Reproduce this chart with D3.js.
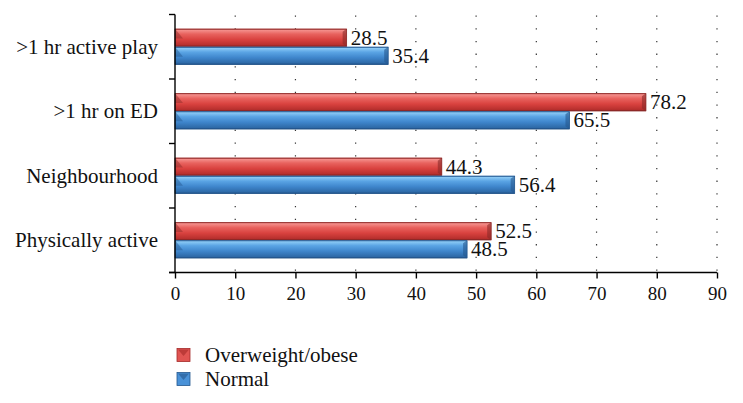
<!DOCTYPE html>
<html>
<head>
<meta charset="utf-8">
<script src="https://cdn.jsdelivr.net/npm/d3@7"></script>
<style>
  html, body { margin: 0; padding: 0; background: #fff; }
  svg { display: block; }
  svg text { font-family: "Liberation Serif", Tinos, "DejaVu Serif", serif !important; fill: #111; }
</style>
</head>
<body>
<svg id="chart" width="743" height="403"></svg>
<script>
const categories = [">1 hr active play", ">1 hr on ED", "Neighbourhood", "Physically active"];
const seriesNames = ["Overweight/obese", "Normal"];
const overweight = [28.5, 78.2, 44.3, 52.5];
const normal = [35.4, 65.5, 56.4, 48.5];
const xTicks = [0, 10, 20, 30, 40, 50, 60, 70, 80, 90];

const FONT = "Liberation Serif, Tinos, DejaVu Serif, serif";
const svg = d3.select("#chart");
const margin = { left: 175, right: 26, top: 14.5, bottom: 131 };
const W = 743, H = 403;

const x = d3.scaleLinear().domain([0, 90]).range([margin.left, W - margin.right]);
const y = d3.scaleBand().domain(categories).range([margin.top, 272.5]).paddingInner(0.44).paddingOuter(0.22);
const sub = d3.scaleBand().domain(seriesNames).range([0, y.bandwidth()]).padding(0);

const defs = svg.append("defs");
function grad(id, stops) {
  const g = defs.append("linearGradient").attr("id", id).attr("x1", 0).attr("y1", 0).attr("x2", 0).attr("y2", 1);
  stops.forEach(s => g.append("stop").attr("offset", s[0]).attr("stop-color", s[1]));
}
grad("gRed", [[0, "#b83838"], [0.08, "#f4908c"], [0.3, "#e8625e"], [0.6, "#d9423f"], [0.9, "#b8302e"], [1, "#7e1f1e"]]);
grad("gBlue", [[0, "#3a78b8"], [0.08, "#8ccaf5"], [0.3, "#5aa4e4"], [0.6, "#3f86cc"], [0.9, "#2e6aa8"], [1, "#1d4778"]]);
const fills = { "Overweight/obese": "url(#gRed)", "Normal": "url(#gBlue)" };
const strokes = { "Overweight/obese": "#8a2a28", "Normal": "#24578e" };

// dotted grid
svg.append("g").selectAll("line").data(xTicks.slice(1)).join("line")
  .attr("x1", d => x(d)).attr("x2", d => x(d))
  .attr("y1", margin.top + 1).attr("y2", 272.5)
  .attr("stroke", "#333").attr("stroke-width", 1.2)
  .attr("stroke-dasharray", "1.3,11.4");

// bars
const rows = categories.map((c, i) => ({ c, vals: [
  { s: seriesNames[0], v: overweight[i] },
  { s: seriesNames[1], v: normal[i] }
]}));
const g = svg.append("g").selectAll("g").data(rows).join("g")
  .attr("transform", d => `translate(0,${y(d.c)})`);
const bar = g.selectAll("g").data(d => d.vals).join("g")
  .attr("transform", d => `translate(0,${sub(d.s)})`);
bar.append("rect")
  .attr("x", x(0)).attr("y", 0)
  .attr("width", d => x(d.v) - x(0)).attr("height", sub.bandwidth())
  .attr("fill", d => fills[d.s]);
bar.append("path")
  .attr("d", d => {
    const xe = x(d.v), h = sub.bandwidth();
    return `M${xe},0 L${xe},${h} L${xe - 4},${h - 3} L${xe - 4},3 Z`;
  })
  .attr("fill", d => strokes[d.s]).attr("opacity", 0.6);
bar.append("path")
  .attr("d", d => {
    const x0 = x(0), h = sub.bandwidth();
    return `M${x0},0 L${x0 + 8},${h * 0.55} L${x0},${h * 0.55} Z`;
  })
  .attr("fill", d => strokes[d.s]).attr("opacity", 0.45);
bar.append("rect")
  .attr("x", x(0)).attr("y", 0.5)
  .attr("width", d => x(d.v) - x(0)).attr("height", sub.bandwidth() - 1)
  .attr("fill", "none").attr("stroke", d => strokes[d.s]).attr("stroke-width", 0.8);
bar.append("text")
  .attr("x", d => x(d.v) + 4)
  .attr("y", sub.bandwidth() / 2 + 7)
  .attr("font-family", FONT)
  .attr("font-size", 21)
  .text(d => d.v.toFixed(1));

// y axis
svg.append("line").attr("x1", x(0)).attr("x2", x(0)).attr("y1", margin.top).attr("y2", 272.5)
  .attr("stroke", "#000").attr("stroke-width", 1.4);
const step = y.step();
const bounds = categories.map(c => y(c) - y.paddingOuter() * step).concat([272.5]);
svg.append("g").selectAll("line").data(bounds).join("line")
  .attr("x1", x(0) - 6).attr("x2", x(0)).attr("y1", d => d).attr("y2", d => d)
  .attr("stroke", "#000").attr("stroke-width", 1.4);
svg.append("g").selectAll("text").data(categories).join("text")
  .attr("x", 158).attr("y", d => y(d) + y.bandwidth() / 2 + 7)
  .attr("text-anchor", "end").attr("font-family", FONT).attr("font-size", 21)
  .text(d => d);

// x axis
const xAxis = svg.append("g").attr("transform", "translate(0,272.5)")
  .call(d3.axisBottom(x).tickValues(xTicks).tickSize(6).tickPadding(8).tickFormat(d3.format("d")));
xAxis.attr("font-family", FONT);
xAxis.select(".domain").attr("stroke", "#000").attr("stroke-width", 1.4).attr("d", `M${x(0) - 6},0H${x(90)}`);
xAxis.selectAll(".tick line").attr("stroke", "#000").attr("stroke-width", 1.4);
xAxis.selectAll(".tick text").attr("font-size", 19).attr("font-family", FONT).attr("fill", "#111");

// legend
const legY = [355, 379];
const legCol = { "Overweight/obese": ["#e05552", "#a52a28"], "Normal": ["#4a92d8", "#24578e"] };
const leg = svg.append("g").selectAll("g").data(seriesNames).join("g")
  .attr("transform", (d, i) => `translate(177,${legY[i]})`);
leg.append("rect").attr("x", 0).attr("y", -6.5).attr("width", 13).attr("height", 13)
  .attr("fill", d => legCol[d][0]).attr("stroke", d => legCol[d][1]).attr("stroke-width", 0.8);
leg.append("path").attr("d", "M1,-5.5 L12,-5.5 L6.5,1 Z").attr("fill", d => legCol[d][1]).attr("opacity", 0.6);
leg.append("text").attr("x", 28).attr("y", 7).attr("font-family", FONT).attr("font-size", 21).text(d => d);
</script>
</body>
</html>
